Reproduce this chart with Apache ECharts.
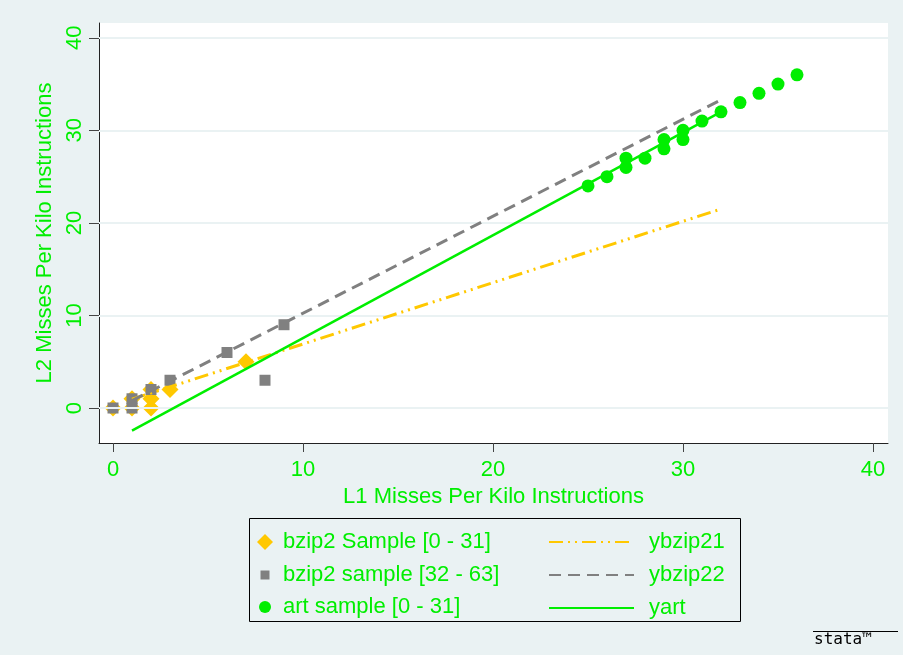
<!DOCTYPE html>
<html><head><meta charset="utf-8">
<script src="https://cdn.jsdelivr.net/npm/echarts@6/dist/echarts.min.js"></script>
<style>html,body{margin:0;padding:0;background:#eaf2f3;}#c{width:903px;height:655px;}</style>
</head><body><div id="c"></div>
<script>
// ---- data ----
const xTicks = [0, 10, 20, 30, 40];
const yTicks = [0, 10, 20, 30, 40];
const bzipA = [[0,0],[1,0],[1,1],[2,0],[2,1],[2,2],[3,2],[7,5]];
const bzipB = [[0,0],[1,0],[1,1],[2,2],[3,3],[6,6],[8,3],[9,9]];
const artPts = [[25,24],[26,25],[27,26],[27,27],[28,27],[29,28],[29,29],[30,29],[30,30],[31,31],[32,32],[33,33],[34,34],[35,35],[36,36]];
const ybzip21 = [[1,0.95],[32,21.5]];
const ybzip22 = [[1,0.8],[32,33.3]];
const yart = [[1,-2.45],[32,32]];
const names = ['bzip2 Sample [0 - 31]','bzip2 sample [32 - 63]','art sample [0 - 31]','ybzip21','ybzip22','yart'];

const GREEN = '#00ee00', YEL = '#ffc800', GRAY = '#808080';
const FONT = 'Liberation Sans, Arial, sans-serif';
const FS = 22;
const chart = echarts.init(document.getElementById('c'), null, {renderer:'canvas'});

function scatterLegend(name, icon, size, cx, cy){
  const left = cx - size/2;
  return {
    data:[{name:name, icon:icon}], orient:'vertical', left:left, top:cy-13,
    itemWidth:size, itemHeight:size, padding:0, selectedMode:false,
    textStyle:{color:GREEN, fontSize:FS, fontFamily:FONT, lineHeight:26, padding:[0,0,0,283-(left+size+5)]}
  };
}

chart.setOption({
  backgroundColor:'#eaf2f3',
  animation:false,
  grid:{left:99, right:15, top:23, bottom:212, show:true, backgroundColor:'#ffffff', borderWidth:0},
  xAxis:{
    type:'value', min:-0.737, max:40.79,
    name:'L1 Misses Per Kilo Instructions', nameLocation:'middle', nameGap:39,
    nameTextStyle:{color:GREEN, fontSize:FS, fontFamily:FONT},
    axisLine:{show:true, onZero:false, lineStyle:{color:'#222', width:1}},
    axisTick:{show:true, customValues:xTicks, length:9, lineStyle:{color:'#444', width:1}},
    axisLabel:{customValues:xTicks, color:GREEN, fontSize:FS, fontFamily:FONT, margin:16},
    splitLine:{show:false}
  },
  yAxis:{
    type:'value', min:-3.78, max:41.6,
    name:'L2 Misses Per Kilo Instructions', nameLocation:'middle', nameGap:37,
    nameTextStyle:{color:GREEN, fontSize:FS, fontFamily:FONT},
    axisLine:{show:true, onZero:false, lineStyle:{color:'#222', width:1}},
    axisTick:{show:true, customValues:yTicks, length:10, lineStyle:{color:'#444', width:1}},
    axisLabel:{customValues:yTicks, color:GREEN, fontSize:FS, fontFamily:FONT, rotate:90, margin:13, align:'center', verticalAlign:'bottom'},
    splitLine:{show:false}
  },
  legend:[
    scatterLegend(names[0], 'diamond', 16, 265, 542),
    scatterLegend(names[1], 'rect', 9, 265, 575),
    scatterLegend(names[2], 'circle', 12, 265, 607),
    {
      data:[names[3], names[4], names[5]], orient:'vertical', left:548, top:529,
      itemWidth:85, itemHeight:14, itemGap:7, padding:0, selectedMode:false,
      itemStyle:{opacity:0, color:'transparent', borderWidth:0},
      textStyle:{color:GREEN, fontSize:FS, fontFamily:FONT, lineHeight:26, padding:[0,0,0,10]}
    }
  ],
  graphic:[
    {type:'rect', z:-1, shape:{x:249.5, y:518.5, width:491, height:103}, style:{fill:'#eaf2f3', stroke:'#000', lineWidth:1}},
    {type:'line', shape:{x1:813, y1:631.5, x2:898, y2:631.5}, style:{stroke:'#000', lineWidth:1.2}},
    {type:'text', left:814, top:632, style:{text:'stata™', fill:'#000', font:'16px DejaVu Sans Mono'}}
  ],
  series:[
    {type:'line', data:[], silent:true, z:1,
     markLine:{silent:true, symbol:'none', label:{show:false}, lineStyle:{color:'#eaf2f3', width:2, type:'solid'},
       data:yTicks.map(v=>({yAxis:v}))}},
    {name:names[0], type:'scatter', data:bzipA, symbol:'diamond', symbolSize:17, itemStyle:{color:YEL, opacity:1}, z:3},
    {name:names[1], type:'scatter', data:bzipB, symbol:'rect', symbolSize:11, itemStyle:{color:GRAY, opacity:1}, z:4},
    {name:names[2], type:'scatter', data:artPts, symbol:'circle', symbolSize:13, itemStyle:{color:GREEN, opacity:1}, z:5},
    {name:names[3], type:'line', data:ybzip21, showSymbol:false, symbol:'none', itemStyle:{color:YEL},
     lineStyle:{color:YEL, width:3, type:[14,5,2,5,2,5]}, z:6},
    {name:names[4], type:'line', data:ybzip22, showSymbol:false, symbol:'none', itemStyle:{color:GRAY},
     lineStyle:{color:GRAY, width:3, type:[12,7]}, z:6},
    {name:names[5], type:'line', data:yart, showSymbol:false, symbol:'none', itemStyle:{color:GREEN},
     lineStyle:{color:GREEN, width:2.5}, z:6}
  ]
});
</script></body></html>
